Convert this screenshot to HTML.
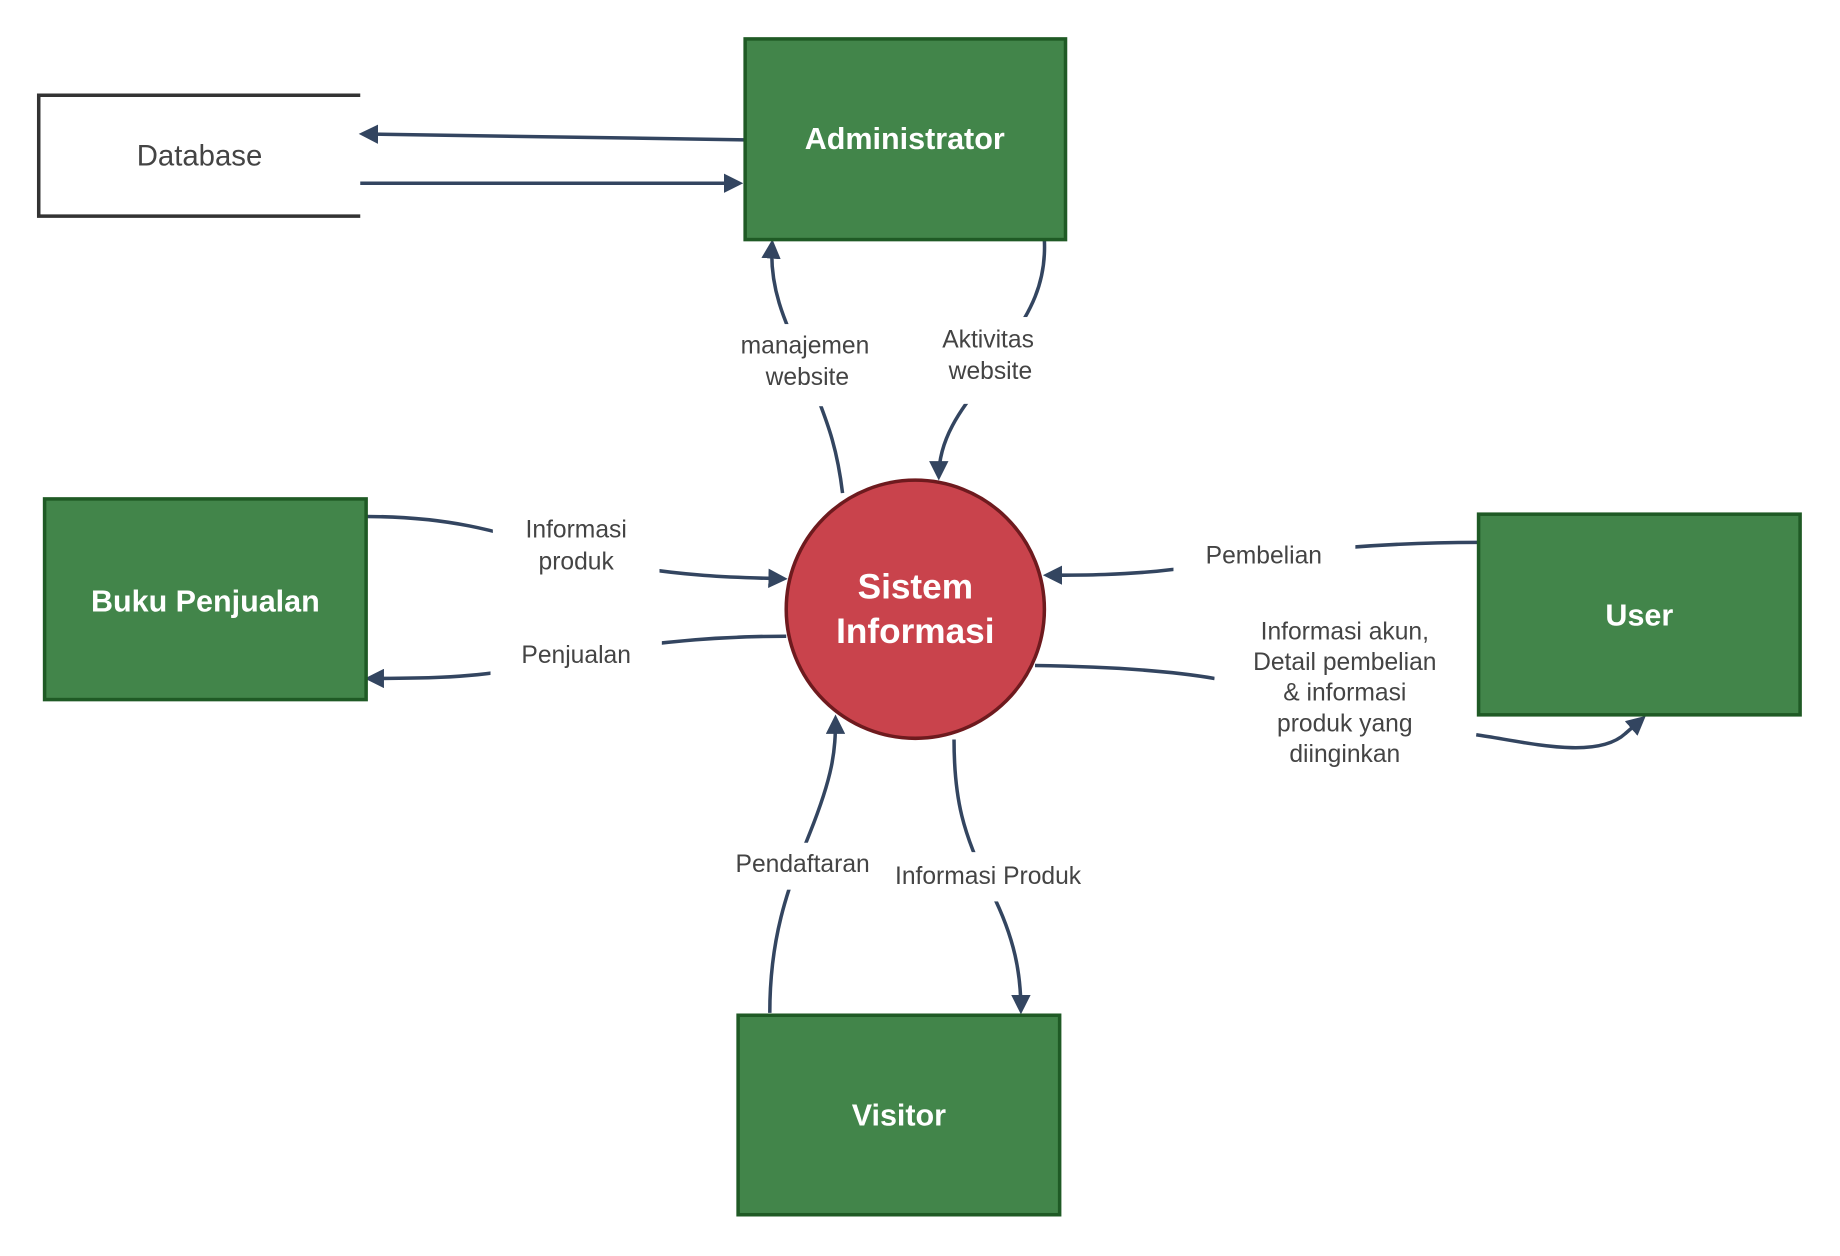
<!DOCTYPE html>
<html><head><meta charset="utf-8"><style>
html,body{margin:0;padding:0;background:#fff;}
svg{display:block;}
text{font-family:"Liberation Sans",sans-serif;}
</style></head><body>
<svg width="1840" height="1256" viewBox="0 0 1568 1070" xmlns="http://www.w3.org/2000/svg">
<defs>
<marker id="a" viewBox="0 0 10 10" refX="8" refY="5" markerWidth="5.5" markerHeight="5.5" orient="auto" markerUnits="strokeWidth">
<path d="M0,0 L10,5 L0,10 z" fill="#334560"/>
</marker>
</defs>
<g fill="none" stroke="#334560" stroke-width="3">
<path d="M635,119 L309,114" marker-end="url(#a)"/>
<path d="M307,156 L630,156" marker-end="url(#a)"/>
<path d="M718,420 C712,370 700,350 690,320 C672,280 655,250 658,207" marker-end="url(#a)"/>
<path d="M890,205 C892,250 870,275 855,300 C838,330 800,360 800,406" marker-end="url(#a)"/>
<path d="M312,440 C420,440 460,470 520,480 C590,492 630,492 668,493" marker-end="url(#a)"/>
<path d="M670,542 C560,542 480,560 440,570 C400,578 350,578 314,578" marker-end="url(#a)"/>
<path d="M1260,462 C1150,462 1060,475 1000,485 C960,490 920,490 892,490" marker-end="url(#a)"/>
<path d="M882,567 C950,568 1000,572 1035,578 M1258,626 C1300,632 1360,648 1385,625 L1400,612" marker-end="url(#a)"/>
<path d="M656,863 C656,800 670,760 690,710 C710,660 712,640 712,612" marker-end="url(#a)"/>
<path d="M813,630 C813,680 820,710 845,760 C865,800 870,830 870,861" marker-end="url(#a)"/>
</g>
<path d="M307,81 L33,81 L33,184 L307,184" fill="none" stroke="#333" stroke-width="3"/>
<g fill="#fff" stroke="none">
<rect x="612" y="276" width="146" height="70"/>
<rect x="790" y="270" width="105" height="74"/>
<rect x="420" y="432" width="142" height="60"/>
<rect x="418" y="540" width="146" height="36"/>
<rect x="1000" y="455" width="155" height="36"/>
<rect x="1035" y="520" width="222" height="142"/>
<rect x="612" y="718" width="140" height="40"/>
<rect x="752" y="726" width="182" height="42"/>
</g>
<g fill="#42854a" stroke="#1f5a25" stroke-width="3">
<rect x="635" y="33" width="273" height="171"/>
<rect x="38" y="425" width="274" height="171"/>
<rect x="1260" y="438" width="274" height="171"/>
<rect x="629" y="865" width="274" height="170"/>
</g>
<circle cx="780" cy="519" r="110" fill="#c9434c" stroke="#6e1a1e" stroke-width="3"/>
<g fill="#fff" font-weight="bold" font-size="26" text-anchor="middle">
<text x="771" y="127">Administrator</text>
<text x="175" y="521">Buku Penjualan</text>
<text x="1397" y="533">User</text>
<text x="766" y="959">Visitor</text>
<text x="780" y="510" font-size="30">Sistem</text>
<text x="780" y="548" font-size="30">Informasi</text>
</g>
<g fill="#444" font-size="21" text-anchor="middle">
<text x="170" y="141" font-size="25">Database</text>
<text x="686" y="301">manajemen</text>
<text x="688" y="328">website</text>
<text x="842" y="296">Aktivitas</text>
<text x="844" y="323">website</text>
<text x="491" y="458">Informasi</text>
<text x="491" y="485">produk</text>
<text x="491" y="565">Penjualan</text>
<text x="1077" y="480">Pembelian</text>
<text x="1146" y="545">Informasi akun,</text>
<text x="1146" y="571">Detail pembelian</text>
<text x="1146" y="597">&amp; informasi</text>
<text x="1146" y="623">produk yang</text>
<text x="1146" y="649">diinginkan</text>
<text x="684" y="743">Pendaftaran</text>
<text x="842" y="753">Informasi Produk</text>
</g>
</svg>
</body></html>
